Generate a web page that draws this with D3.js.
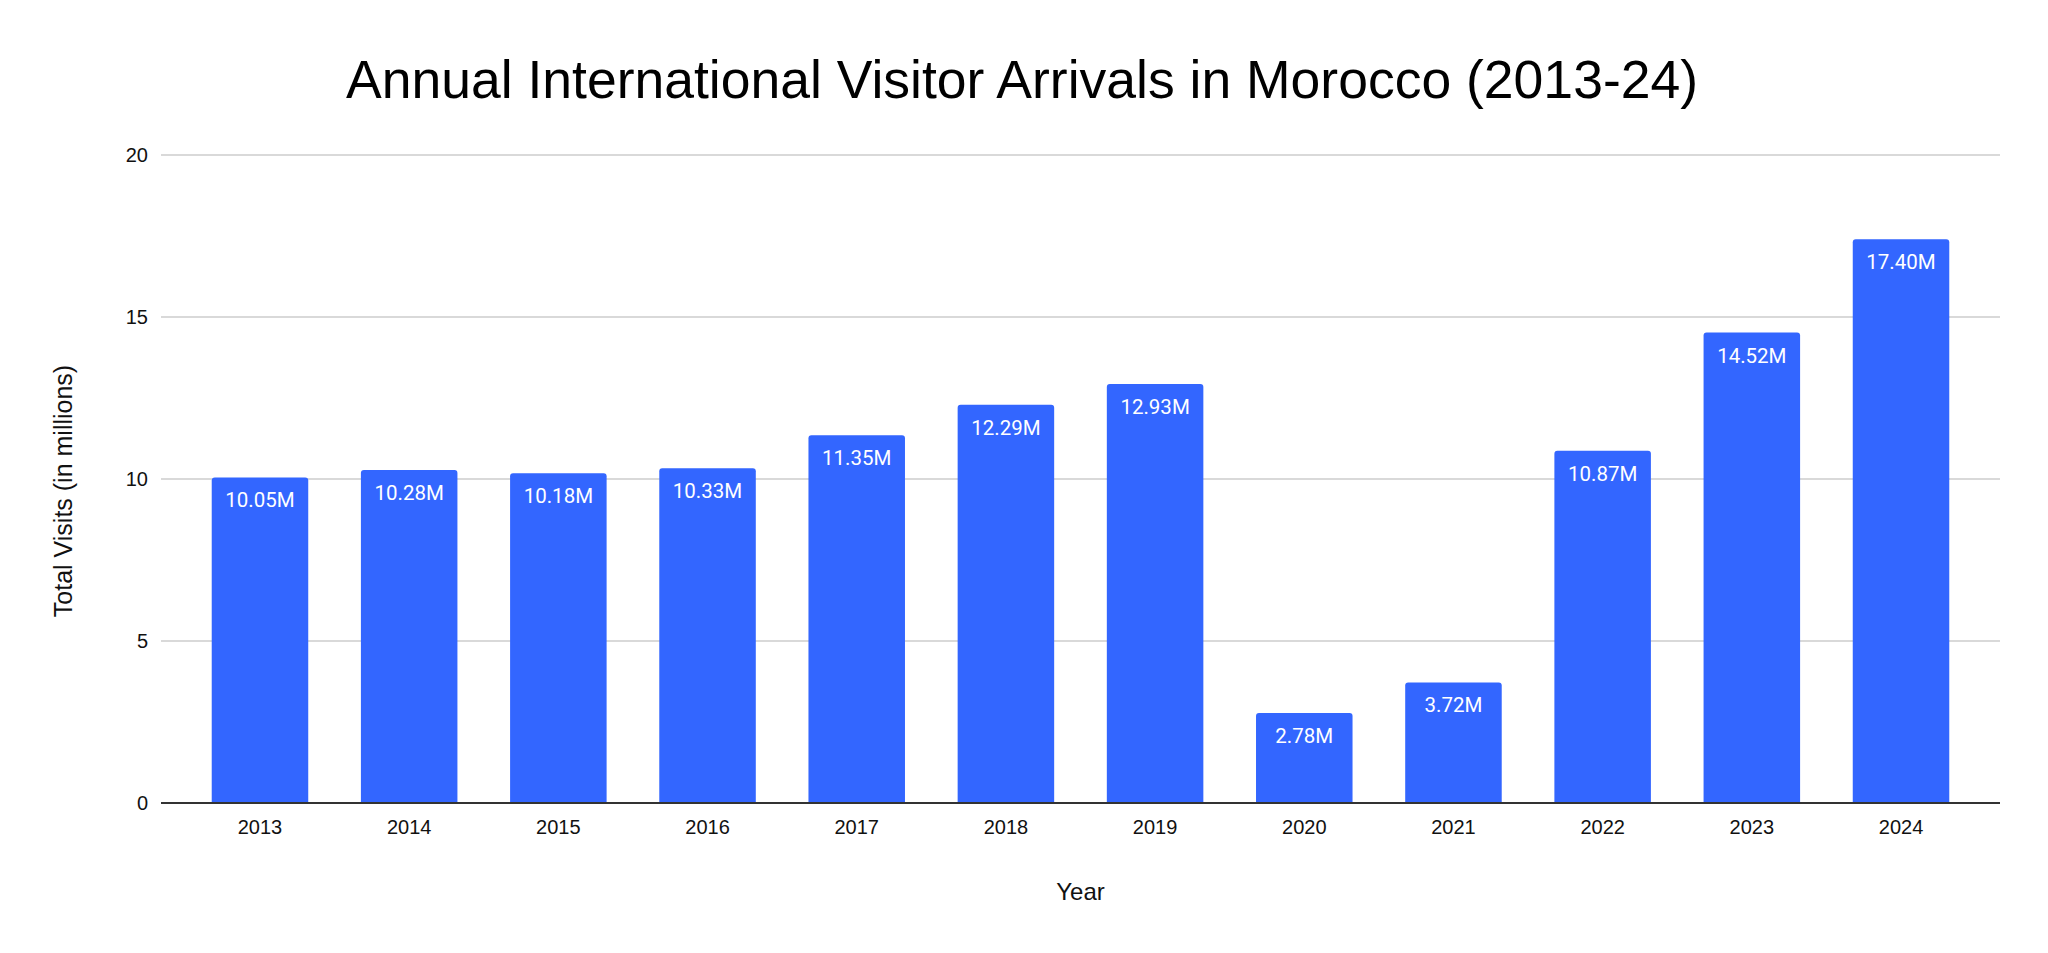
<!DOCTYPE html>
<html>
<head>
<meta charset="utf-8">
<script src="https://cdn.jsdelivr.net/npm/d3@7"></script>
<style>
  body { margin: 0; background: #fff; }
  svg { display: block; }
</style>
</head>
<body>
<div id="chart"></div>
<script>
const years = ['2013', '2014', '2015', '2016', '2017', '2018', '2019', '2020', '2021', '2022', '2023', '2024'];
const visits = [10.05, 10.28, 10.18, 10.33, 11.35, 12.29, 12.93, 2.78, 3.72, 10.87, 14.52, 17.40];
const yTicks = [0, 5, 10, 15, 20];

const W = 2048, H = 953;
const plot = { left: 161, right: 2000, top: 155, bottom: 803 };

const svg = d3.select('#chart')
    .append('svg')
    .attr('width', W)
    .attr('height', H);

svg.append('rect').attr('width', W).attr('height', H).attr('fill', '#fff');

const x = d3.scaleBand()
    .domain(years)
    .range([plot.left, plot.right])
    .paddingInner(0.353)
    .paddingOuter(0.34);

const y = d3.scaleLinear()
    .domain([0, 20])
    .range([plot.bottom, plot.top]);

// gridlines
svg.append('g')
    .selectAll('line')
    .data(yTicks.filter(d => d > 0))
    .enter().append('line')
    .attr('x1', plot.left)
    .attr('x2', plot.right)
    .attr('y1', d => y(d))
    .attr('y2', d => y(d))
    .attr('stroke', '#cccccc')
    .attr('stroke-width', 1.5);

// y axis labels
const yAxis = svg.append('g')
    .attr('transform', `translate(${plot.left - 13}, 0)`)
    .call(d3.axisLeft(y).tickValues(yTicks).tickSize(0).tickPadding(0));
yAxis.select('.domain').remove();
yAxis.selectAll('text')
    .attr('font-family', 'Arial, "Liberation Sans", sans-serif')
    .attr('font-size', 20)
    .attr('fill', '#111');

// bars with slightly rounded tops
const r = 3;
function barPath(d, i) {
    const x0 = x(years[i]), w = x.bandwidth();
    const top = y(d), bot = y(0);
    return `M${x0},${bot}V${top + r}Q${x0},${top} ${x0 + r},${top}H${x0 + w - r}Q${x0 + w},${top} ${x0 + w},${top + r}V${bot}Z`;
}

svg.append('g')
    .selectAll('path')
    .data(visits)
    .enter().append('path')
    .attr('d', barPath)
    .attr('fill', '#3366ff');

// data labels inside the bars
svg.append('g')
    .selectAll('text')
    .data(visits)
    .enter().append('text')
    .attr('x', (d, i) => x(years[i]) + x.bandwidth() / 2)
    .attr('y', d => y(d) + 30)
    .attr('text-anchor', 'middle')
    .attr('font-family', 'Roboto, Arial, sans-serif')
    .attr('font-size', 20.5)
    .attr('fill', '#fff')
    .text(d => d.toFixed(2) + 'M');

// x axis
const xAxis = svg.append('g')
    .attr('transform', `translate(0, ${plot.bottom})`)
    .call(d3.axisBottom(x).tickSize(0).tickPadding(0));
xAxis.select('.domain')
    .attr('d', `M${plot.left},0H${plot.right}`)
    .attr('stroke', '#333')
    .attr('stroke-width', 2);
xAxis.selectAll('text')
    .attr('dy', null)
    .attr('y', 31)
    .attr('font-family', 'Arial, "Liberation Sans", sans-serif')
    .attr('font-size', 20)
    .attr('fill', '#111');

// titles
svg.append('text')
    .attr('x', 1022)
    .attr('y', 98)
    .attr('text-anchor', 'middle')
    .attr('font-family', 'Arial, "Liberation Sans", sans-serif')
    .attr('font-size', 53.5)
    .attr('fill', '#000')
    .text('Annual International Visitor Arrivals in Morocco (2013-24)');

svg.append('text')
    .attr('x', (plot.left + plot.right) / 2)
    .attr('y', 900)
    .attr('text-anchor', 'middle')
    .attr('font-family', 'Arial, "Liberation Sans", sans-serif')
    .attr('font-size', 24)
    .attr('fill', '#111')
    .text('Year');

svg.append('text')
    .attr('transform', 'translate(72, 491) rotate(-90)')
    .attr('text-anchor', 'middle')
    .attr('font-family', 'Arial, "Liberation Sans", sans-serif')
    .attr('font-size', 25)
    .attr('fill', '#111')
    .text('Total Visits (in millions)');
</script>
</body>
</html>
